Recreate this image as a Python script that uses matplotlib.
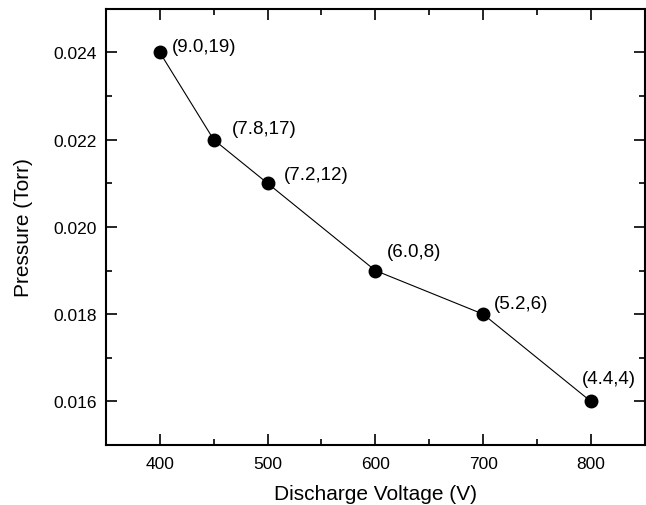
import matplotlib
matplotlib.use('Agg')
import matplotlib.pyplot as plt
from matplotlib.ticker import MultipleLocator

plt.rcParams['font.family'] = ['Liberation Sans', 'DejaVu Sans']

# data
voltage = [400, 450, 500, 600, 700, 800]
pressure = [0.024, 0.022, 0.021, 0.019, 0.018, 0.016]
labels = ['(9.0,19)', '(7.8,17)', '(7.2,12)', '(6.0,8)', '(5.2,6)', '(4.4,4)']
# label offsets in points
offsets = [(9, 4), (13, 8), (11.5, 6.5), (8, 14), (8, 8), (-6.5, 16.5)]

fig = plt.figure(figsize=(6.46, 5.06), dpi=100)
ax = fig.add_axes([0.164, 0.1186, 0.834, 0.862])

ax.plot(voltage, pressure, color='black', lw=0.8, marker='o', ms=9,
        markerfacecolor='black', markeredgecolor='black')

for x, y, lab, off in zip(voltage, pressure, labels, offsets):
    ax.annotate(lab, (x, y), xytext=off, textcoords='offset points',
                ha='left', va='center', fontsize=13.5)

ax.set_xlim(350, 850)
ax.set_ylim(0.015, 0.025)
ax.xaxis.set_major_locator(MultipleLocator(100))
ax.xaxis.set_minor_locator(MultipleLocator(50))
ax.yaxis.set_minor_locator(MultipleLocator(0.001))
ax.set_yticks([0.016, 0.018, 0.020, 0.022, 0.024])
ax.set_yticklabels(['0.016', '0.018', '0.020', '0.022', '0.024'])

ax.tick_params(which='both', direction='in', top=True, right=True,
               labelsize=12.5, width=1.2)
ax.tick_params(axis='x', which='major', length=8, pad=8)
ax.tick_params(axis='y', which='major', length=8, pad=6.5)
ax.tick_params(which='minor', length=4)
for s in ax.spines.values():
    s.set_linewidth(1.5)

ax.set_xlabel('Discharge Voltage (V)', fontsize=15, labelpad=9)
ax.set_ylabel('Pressure (Torr)', fontsize=15, labelpad=15)

fig.savefig('out.png', dpi=100)
